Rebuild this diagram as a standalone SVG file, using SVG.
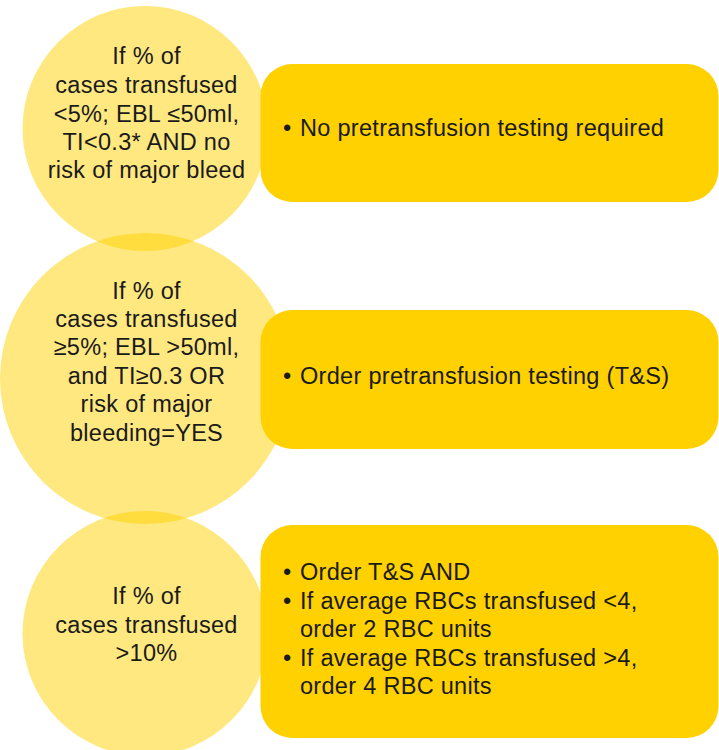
<svg xmlns="http://www.w3.org/2000/svg" width="719" height="750" viewBox="0 0 719 750">
<style>
.circ{fill:#FFD100;fill-opacity:0.5}
.box{fill:#FFD100}
text{font-family:"Liberation Sans",Arial,sans-serif;font-size:23.5px;fill:#1a1a1a;letter-spacing:0.3px}
.c{text-anchor:middle}
</style>
<rect width="719" height="750" fill="#ffffff"/>
<g id="cond1">
<circle class="circ" cx="145" cy="128.5" r="122.5"/>
<text class="c" x="146.5" y="64">If % of</text>
<text class="c" x="146.5" y="93">cases transfused</text>
<text class="c" x="146.5" y="121.5">&lt;5%; EBL ≤50ml,</text>
<text class="c" x="146.5" y="150">TI&lt;0.3* AND no</text>
<text class="c" x="146.5" y="178">risk of major bleed</text>
</g>
<g id="cond2">
<circle class="circ" cx="145.5" cy="378.5" r="145.5"/>
<text class="c" x="146.5" y="299">If % of</text>
<text class="c" x="146.5" y="327">cases transfused</text>
<text class="c" x="146.5" y="355">≥5%; EBL &gt;50ml,</text>
<text class="c" x="146.5" y="383.5">and TI≥0.3 OR</text>
<text class="c" x="146.5" y="412">risk of major</text>
<text class="c" x="146.5" y="441">bleeding=YES</text>
</g>
<g id="cond3">
<circle class="circ" cx="145" cy="633.5" r="122.5"/>
<text class="c" x="146.5" y="604">If % of</text>
<text class="c" x="146.5" y="633">cases transfused</text>
<text class="c" x="146.5" y="661">&gt;10%</text>
</g>
<g id="action1">
<rect class="box" x="260.5" y="64" width="458" height="138" rx="32"/>
<text x="283" y="136">•</text><text x="300" y="136">No pretransfusion testing required</text>
</g>
<g id="action2">
<rect class="box" x="260.5" y="310" width="458" height="139" rx="32"/>
<text x="283" y="383.5">•</text><text x="300" y="383.5">Order pretransfusion testing (T&amp;S)</text>
</g>
<g id="action3">
<rect class="box" x="260.5" y="525" width="458" height="213" rx="32"/>
<text x="283" y="580">•</text><text x="300" y="580">Order T&amp;S AND</text>
<text x="283" y="608.5">•</text><text x="300" y="608.5">If average RBCs transfused &lt;4,</text>
<text x="300" y="637">order 2 RBC units</text>
<text x="283" y="665.5">•</text><text x="300" y="665.5">If average RBCs transfused &gt;4,</text>
<text x="300" y="693.5">order 4 RBC units</text>
</g>
<g id="connectors"></g>
</svg>
